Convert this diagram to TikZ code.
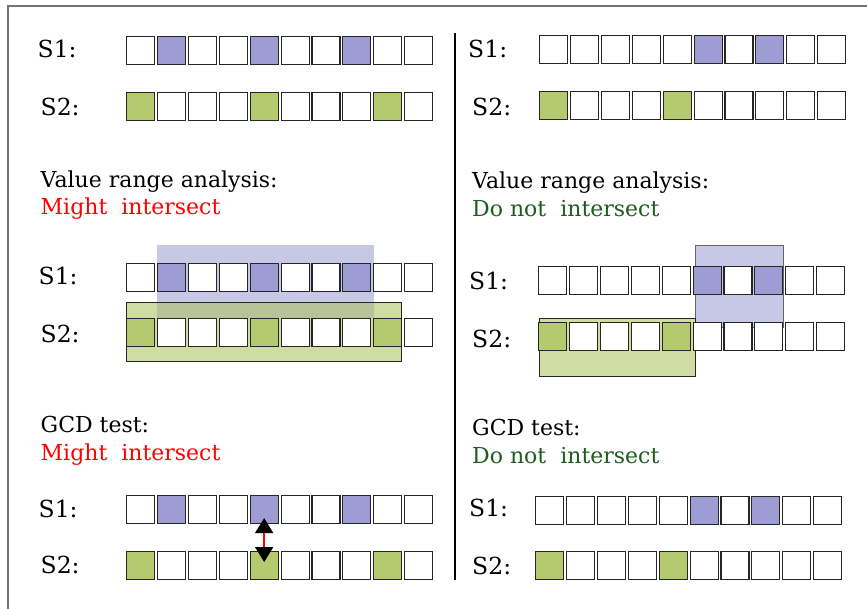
\documentclass[tikz,border=0pt]{standalone}
\usepackage{fontspec}
\setmainfont{DejaVu Serif}
\usetikzlibrary{arrows.meta}
\definecolor{cw}{RGB}{255,255,255}
\definecolor{cb}{RGB}{157,157,211}
\definecolor{cg}{RGB}{181,201,111}
\definecolor{rectblue}{RGB}{199,200,230}
\definecolor{rectgreen}{RGB}{173,191,90}
\definecolor{dgreen}{RGB}{30,92,30}
\definecolor{txtred}{RGB}{255,0,0}
\tikzset{
  cell/.style={draw=black!85, line width=1.1pt, minimum width=28pt, minimum height=28pt, inner sep=0pt, anchor=north west},
  lab/.style={anchor=base west, inner sep=0pt, font=\fontsize{23.5}{28}\selectfont},
  head/.style={anchor=base west, inner sep=0pt, font=\fontsize{22}{26}\selectfont},
  bluerect/.style={fill=rectblue},
  greenrect/.style={fill=rectgreen, fill opacity=0.55, draw=black!85, line width=1pt},
  bigtri/.tip={Triangle[length=15pt,width=18pt,color=black]},
}
\newcommand\cellrow[4]{%
  \foreach \c [count=\i from 0] in {#4}{%
    \node[cell, fill=\c] (#1-\i) at ({#2+\i*30.9},#3) {};
  }%
}
\begin{document}
\begin{tikzpicture}[x=1pt,y=-1pt]
\clip (0,0) rectangle (867,608);
\fill[white] (0,0) rectangle (867,608);
\draw[black!55, line width=1.3pt] (8,6) rectangle (900,640);

% divider
\coordinate (dtop) at (455,33);
\coordinate (dbot) at (455,580);
\draw[line width=1.6pt] (dtop) -- (dbot);

% ---------- top left
\node[lab] (tl1) at (37.5,57) {S1:};
\node[lab] (tl2) at (40.5,115) {S2:};
\cellrow{TLa}{126}{36}{cw,cb,cw,cw,cb,cw,cw,cb,cw,cw}
\cellrow{TLb}{126}{92}{cg,cw,cw,cw,cg,cw,cw,cw,cg,cw}

% ---------- top right
\node[lab] (tr1) at (468,57) {S1:};
\node[lab] (tr2) at (472,115) {S2:};
\cellrow{TRa}{539}{35}{cw,cw,cw,cw,cw,cb,cw,cb,cw,cw}
\cellrow{TRb}{539}{91}{cg,cw,cw,cw,cg,cw,cw,cw,cw,cw}

% ---------- middle left
\node[head] (mlh) at (40.5,187) {Value range analysis:};
\node[head, text=txtred] (mlr) at (40.5,214) {Might~ intersect};
\node[lab] (ml1) at (38.5,284) {S1:};
\node[lab] (ml2) at (40.5,342) {S2:};
\fill[bluerect] (157,245) rectangle (374,318);
\cellrow{MLa}{126}{263}{cw,cb,cw,cw,cb,cw,cw,cb,cw,cw}
\filldraw[greenrect] (126,302.5) rectangle (401.5,361.5);
\cellrow{MLb}{126}{318}{cg,cw,cw,cw,cg,cw,cw,cw,cg,cw}

% ---------- middle right
\node[head] (mrh) at (472,188.5) {Value range analysis:};
\node[head, text=dgreen] (mrr) at (472,216.5) {Do not~ intersect};
\node[lab] (mr1) at (469,289) {S1:};
\node[lab] (mr2) at (472,347) {S2:};
\filldraw[bluerect, draw=black!60, line width=1pt] (695,245) rectangle (783.5,327);
\cellrow{MRa}{538}{266}{cw,cw,cw,cw,cw,cb,cw,cb,cw,cw}
\filldraw[greenrect] (539.3,318) rectangle (695.7,376.7);
\cellrow{MRb}{538}{322}{cg,cw,cw,cw,cg,cw,cw,cw,cw,cw}

% ---------- bottom left
\node[head] (blh) at (40.5,432.3) {GCD test:};
\node[head, text=txtred] (blr) at (40.5,460) {Might~ intersect};
\node[lab] (bl1) at (38.5,517) {S1:};
\node[lab] (bl2) at (40.5,573) {S2:};
\cellrow{BLa}{126}{495}{cw,cb,cw,cw,cb,cw,cw,cb,cw,cw}
\cellrow{BLb}{126}{551}{cg,cw,cw,cw,cg,cw,cw,cw,cg,cw}
\draw[txtred, line width=1.8pt, bigtri-bigtri, shorten <=-6pt, shorten >=-11pt] (BLa-4.south) -- (BLb-4.north);

% ---------- bottom right
\node[head] (brh) at (472,435) {GCD test:};
\node[head, text=dgreen] (brr) at (472,463) {Do not~ intersect};
\node[lab] (br1) at (469,516) {S1:};
\node[lab] (br2) at (472,574) {S2:};
\cellrow{BRa}{535}{496}{cw,cw,cw,cw,cw,cb,cw,cb,cw,cw}
\cellrow{BRb}{535}{551}{cg,cw,cw,cw,cg,cw,cw,cw,cw,cw}
\end{tikzpicture}
\end{document}
